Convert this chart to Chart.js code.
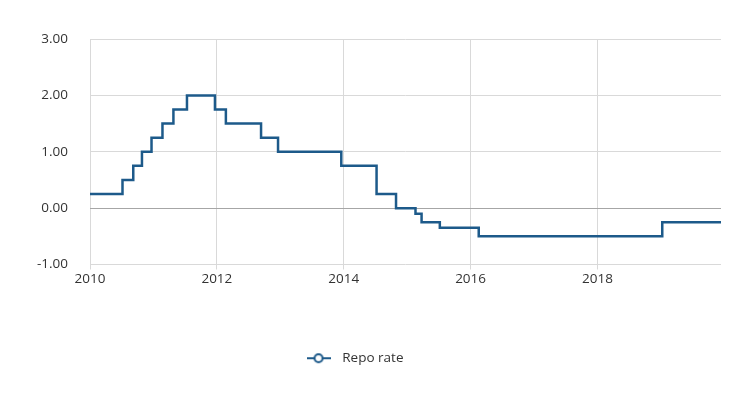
<!DOCTYPE html>
<html>
<head>
<meta charset="utf-8">
<script src="https://cdn.jsdelivr.net/npm/chart.js@4"></script>
<style>
  html, body { margin: 0; padding: 0; background: #fff; }
  #wrap { width: 737px; height: 393px; }
</style>
</head>
<body>
<div id="wrap"><canvas id="chart" width="737" height="393"></canvas></div>
<script>
// --- Data: repo rate decision dates and new rate (%) ---
const changeDates = [
  "2010-01-01", "2010-07-07", "2010-09-07", "2010-10-27", "2010-12-21",
  "2011-02-22", "2011-04-26", "2011-07-13", "2011-12-21", "2012-02-22",
  "2012-09-12", "2012-12-19", "2013-12-18", "2014-07-09", "2014-10-29",
  "2015-02-18", "2015-03-25", "2015-07-08", "2016-02-17", "2019-01-09",
  "2019-12-13"
];
const repoRates = [
  0.25, 0.50, 0.75, 1.00, 1.25,
  1.50, 1.75, 2.00, 1.75, 1.50,
  1.25, 1.00, 0.75, 0.25, 0.00,
  -0.10, -0.25, -0.35, -0.50, -0.25,
  -0.25
];
const xTicks = [2010, 2012, 2014, 2016, 2018];
const yTicks = [-1, 0, 1, 2, 3];

const lineColor = '#1d5a8a';

// date string -> decimal year
function toYear(s) {
  const d = new Date(s + 'T00:00:00Z');
  const y = d.getUTCFullYear();
  const start = Date.UTC(y, 0, 1), end = Date.UTC(y + 1, 0, 1);
  return y + (d.getTime() - start) / (end - start);
}

const points = changeDates.map((d, i) => ({ x: toYear(d), y: repoRates[i] }));

// legend symbol: line through open circle
function legendSymbol() {
  const c = document.createElement('canvas');
  c.width = 24; c.height = 12;
  const g = c.getContext('2d');
  g.strokeStyle = lineColor;
  g.lineWidth = 2;
  g.beginPath(); g.moveTo(0, 6); g.lineTo(24, 6); g.stroke();
  g.fillStyle = '#fff';
  g.beginPath(); g.arc(12, 6, 4, 0, Math.PI * 2); g.fill(); g.stroke();
  return c;
}
const symbol = legendSymbol();

// nudge the legend a bit left, like the original
const legendShift = {
  id: 'legendShift',
  afterLayout(chart) {
    if (chart.legend) { chart.legend.left -= 8; chart.legend.right -= 8; }
  }
};

Chart.defaults.font.family = '"Open Sans", "Noto Sans", sans-serif';
Chart.defaults.color = '#333';

new Chart(document.getElementById('chart'), {
  type: 'line',
  data: {
    datasets: [{
      label: 'Repo rate',
      data: points,
      borderColor: lineColor,
      backgroundColor: '#fff',
      borderWidth: 2.5,
      stepped: true,
      pointRadius: 0,
      pointStyle: symbol
    }]
  },
  options: {
    responsive: false,
    animation: false,
    layout: { padding: { left: 0, right: 16, top: 39, bottom: 18 } },
    scales: {
      x: {
        type: 'linear',
        min: 2010,
        max: toYear("2019-12-13"),
        afterBuildTicks: s => { s.ticks = xTicks.map(v => ({ value: v })); },
        afterFit: s => { s.height = 67; },
        border: { display: false },
        grid: { color: '#d9d9d9', tickLength: 5, drawTicks: true },
        ticks: { font: { size: 13.5 }, maxRotation: 0, padding: 2, callback: v => String(v) }
      },
      y: {
        min: -1, max: 3,
        afterBuildTicks: s => { s.ticks = yTicks.map(v => ({ value: v })); },
        afterFit: s => { s.width = 90; },
        border: { display: false },
        grid: {
          color: c => c.tick && c.tick.value === 0 ? '#a6a6a6' : '#d9d9d9',
          drawTicks: false
        },
        ticks: { font: { size: 13.5 }, padding: 22, callback: v => v.toFixed(2) }
      }
    },
    plugins: {
      legend: {
        position: 'bottom',
        labels: {
          usePointStyle: true,
          pointStyleWidth: 34,
          font: { size: 13.5 },
          padding: 20
        }
      },
      tooltip: { enabled: false }
    }
  },
  plugins: [legendShift]
});
</script>
</body>
</html>
